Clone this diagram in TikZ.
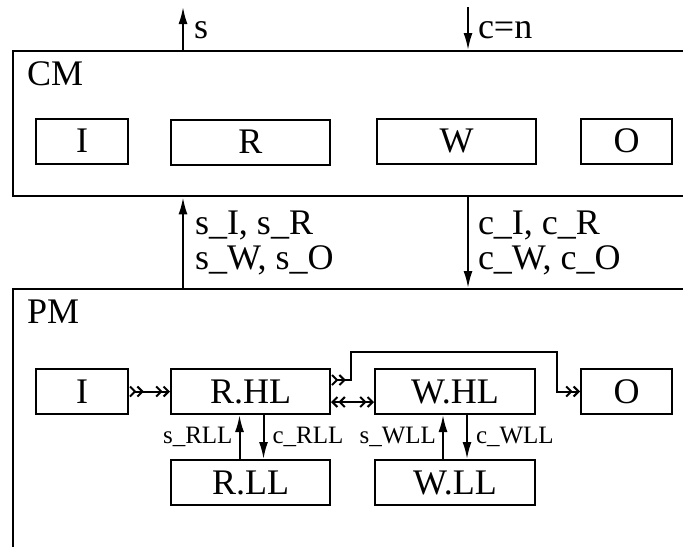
\documentclass[tikz,border=0pt]{standalone}
\usepackage{fontspec}
\setmainfont{Liberation Serif}
\usetikzlibrary{arrows.meta}

\begin{document}
\begin{tikzpicture}[x=0.5pt, y=-0.5pt, line width=1pt,
  frame/.style={draw, line width=1.2pt, anchor=north west, minimum width=360pt, inner sep=0pt},
  box/.style={draw, minimum height=22.5pt, inner sep=0pt, font=\fontsize{18}{21}\selectfont},
  txt/.style={inner sep=0pt, anchor=base west, font=\fontsize{18}{21}\selectfont},
  small/.style={inner sep=0pt, font=\fontsize{12.5}{15}\selectfont},
  sig/.style={-{Latex[length=8.5pt, width=4.5pt]}},
  flow/.style={arrows={Straight Barb[reversed, length=2.5pt, width=5pt] Straight Barb[reversed, length=2.5pt, width=5pt]-Straight Barb[length=2.5pt, width=5pt] Straight Barb[length=2.5pt, width=5pt]}},
  both/.style={arrows={Straight Barb[length=2.5pt, width=5pt] Straight Barb[length=2.5pt, width=5pt]-Straight Barb[length=2.5pt, width=5pt] Straight Barb[length=2.5pt, width=5pt]}}]
  \useasboundingbox (0,0) rectangle (683,546);
  \clip (0,0) rectangle (683,546);

  \node [frame, minimum height=72.5pt] (cm) at (12,50) {};
  \node [txt] (cmlab) at (26,85) {CM};
  \node [box, minimum width=46pt] (cmI) at (82,141) {I};
  \node [box, minimum width=79.5pt] (cmR) at (250.5,142) {R};
  \node [box, minimum width=79.5pt] (cmW) at (456.5,141) {W};
  \node [box, minimum width=45.5pt] (cmO) at (626.5,141) {O};

  \node [frame, minimum height=160pt] (pm) at (12,288) {};
  \node [txt] (pmlab) at (26,323) {PM};
  \node [box, minimum width=46pt] (pmI) at (82,391.5) {I};
  \node [box, minimum width=79.5pt] (rhl) at (250.5,391.5) {R.HL};
  \node [box, minimum width=80pt] (whl) at (455,391.5) {W.HL};
  \node [box, minimum width=45.5pt] (pmO) at (626.5,391.5) {O};
  \node [box, minimum width=79.5pt] (rll) at (250.5,482.5) {R.LL};
  \node [box, minimum width=80pt] (wll) at (455,482.5) {W.LL};

  \coordinate (sx) at (183,7);
  \coordinate (cx) at (468,7);
  \draw [sig] (cm.north -| sx) -- (sx);
  \draw [sig] (cx) -- (cm.north -| cx);
  \node [txt] (slab) at (193,38) {s};
  \node [txt] (clab) at (477,38) {c=n};

  \draw [sig] (pm.north -| sx) -- (cm.south -| sx);
  \draw [sig] (cm.south -| cx) -- (pm.north -| cx);
  \node [txt] (sup1) at (194,234) {s\_I, s\_R};
  \node [txt] (sup2) at (194,269) {s\_W, s\_O};
  \node [txt] (cdn1) at (477,234) {c\_I, c\_R};
  \node [txt] (cdn2) at (477,269) {c\_W, c\_O};

  \coordinate (up1) at (351,352);
  \coordinate (up2) at (557,352);
  \draw [flow] (pmI.east) -- (rhl.west);
  \draw [flow] ([yshift=5.75pt]rhl.east) -| (up1) -- (up2) |- (pmO.west);
  \draw [both] ([yshift=-5.25pt]rhl.east) -- ([yshift=-5.25pt]whl.west);

  \draw [sig] ([xshift=-5.5pt]rll.north) -- ([xshift=-5.5pt]rhl.south)
    node [small, anchor=east, pos=.5, xshift=-3pt] {s\_RLL};
  \draw [sig] ([xshift=6.5pt]rhl.south) -- ([xshift=6.5pt]rll.north)
    node [small, anchor=west, pos=.5, xshift=4pt] {c\_RLL};
  \draw [sig] ([xshift=-6pt]wll.north) -- ([xshift=-6pt]whl.south)
    node [small, anchor=east, pos=.5, xshift=-3pt] {s\_WLL};
  \draw [sig] ([xshift=6pt]whl.south) -- ([xshift=6pt]wll.north)
    node [small, anchor=west, pos=.5, xshift=4pt] {c\_WLL};
\end{tikzpicture}
\end{document}
